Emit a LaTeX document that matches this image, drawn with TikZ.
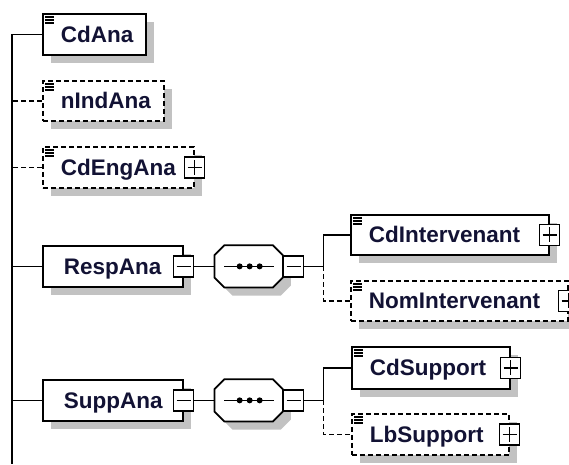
\documentclass[tikz,border=0pt]{standalone}
\usepackage{fontspec}
\setmainfont{Liberation Sans}
\usepackage{xcolor}
\usepackage{tikz}
\usetikzlibrary{positioning, shadows}

\definecolor{labelnavy}{RGB}{18,18,52}

\newcommand{\seqoutline}[1]{([xshift=10pt]#1.north west) -- ([xshift=-10pt]#1.north east)
  -- ([yshift=-10pt]#1.north east) -- ([yshift=10pt]#1.south east)
  -- ([xshift=-10pt]#1.south east) -- ([xshift=10pt]#1.south west)
  -- ([yshift=10pt]#1.south west) -- ([yshift=-10pt]#1.north west) -- cycle}

\tikzset{
  wire/.style={line width=1.7pt},
  element/.style={draw, fill=white, line width=1.7pt, anchor=north west,
    minimum height=41pt, inner xsep=18pt, inner ysep=0pt, align=left,
    text height=16pt, text depth=0pt, text=labelnavy,
    font=\fontsize{22.5}{24}\selectfont\bfseries,
    execute at begin node={\hyphenpenalty=10000},
    drop shadow={shadow xshift=8pt, shadow yshift=-8pt, fill=black!24, opacity=1, draw=none}},
  optional/.style={element, dash pattern=on 5pt off 3pt},
  complex/.style={element, inner xsep=21pt},
  sequence/.style={minimum width=68pt, minimum height=42pt, inner sep=0pt},
  minusbox/.style={draw, solid, fill=white, line width=1.5pt, minimum width=20pt,
    minimum height=21pt, inner sep=0pt,
    path picture={
      \draw[line width=1.5pt] ([xshift=3pt]path picture bounding box.west) -- ([xshift=-3pt]path picture bounding box.east);
    }},
  plusbox/.style={minusbox,
    path picture={
      \draw[line width=1.5pt] ([xshift=3pt]path picture bounding box.west) -- ([xshift=-3pt]path picture bounding box.east);
      \draw[line width=1.5pt] ([yshift=-3pt]path picture bounding box.north) -- ([yshift=3pt]path picture bounding box.south);
    }}
}

\begin{document}
\begin{tikzpicture}[x=1pt, y=-1pt]

  \path[use as bounding box, fill=white] (0,0) rectangle (569,464);
  \coordinate (trunk) at (12,464);

  \node [element, minimum width=103pt, text width=67pt] (cdana) at (42,13) {CdAna};
  \node [optional, minimum height=40pt, minimum width=121pt, text width=85pt] (nindana) at (42,80) {nIndAna};
  \node [optional, minimum width=151pt, text width=115pt] (cdengana) at (42,146) {CdEngAna};
  \node [complex, minimum width=140pt, text width=98pt] (respana) at (42,245) {RespAna};
  \node [element, minimum height=40pt, minimum width=198pt, text width=162pt] (cdinter) at (350,214) {CdIntervenant};
  \node [optional, minimum height=40pt, minimum width=217pt, text width=181pt] (nominter) at (350,280) {NomIntervenant};
  \node [complex, minimum width=140pt, text width=98pt] (suppana) at (42,379) {SuppAna};
  \node [element, minimum height=42pt, minimum width=158pt, text width=122pt] (cdsupp) at (351,346) {CdSupport};
  \node [optional, minimum width=157pt, text width=121pt] (lbsupp) at (351,413) {LbSupport};

  \foreach \n in {cdana,nindana,cdengana,cdinter,nominter,cdsupp,lbsupp}
    \foreach \k in {0,1,2}
      \draw [line width=1.2pt] ([shift={(3,{4+3*\k})}]\n.north west) -- ++(9,0);

  \foreach \n in {cdengana,cdinter,nominter,cdsupp,lbsupp}
    \node [plusbox] (\n-x) at (\n.east) {};

  \foreach \n in {respana,suppana} {
    \node [minusbox] (\n-x) at (\n.east) {};
    \node [sequence, right=20pt of \n-x] (\n-seq) {};
    \fill [black!24, transform canvas={shift={(8pt,-8pt)}}] \seqoutline{\n-seq};
    \draw [wire, fill=white] \seqoutline{\n-seq};
    \draw [wire] ([xshift=10pt]\n-seq.west) -- ([xshift=-9pt]\n-seq.east);
    \foreach \d in {-9,1,11}
      \fill ([xshift=\d pt]\n-seq.center) circle (3pt);
    \node [minusbox, right=0pt of \n-seq] (\n-seqx) {};
    \coordinate [right=19pt of \n-seqx] (\n-fork);
    \draw [wire] (\n-x.east) -- (\n-seq.west);
    \draw [wire] (\n-seqx.east) -- (\n-fork);
    \draw [wire] (\n.west) -- (\n.west -| trunk);
  }

  \draw [wire] (cdana.west) -| (trunk);
  \foreach \n in {nindana,cdengana}
    \draw [wire, dash pattern=on 5pt off 3pt] (\n.west) -- (\n.west -| trunk);

  \draw [wire] (respana-fork) |- (cdinter.west);
  \draw [wire, dash pattern=on 5pt off 3pt] (respana-fork) |- (nominter.west);
  \draw [wire] (suppana-fork) |- (cdsupp.west);
  \draw [wire, dash pattern=on 5pt off 3pt] (suppana-fork) |- (lbsupp.west);

\end{tikzpicture}
\end{document}
